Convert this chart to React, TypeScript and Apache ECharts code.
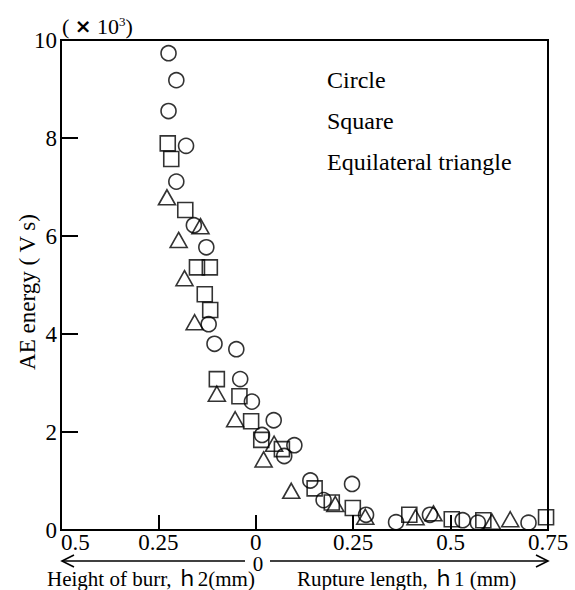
import React, { useEffect, useRef } from "react";
import * as echarts from "echarts";

// x: negative = height of burr h2, positive = rupture length h1 (mm); y: AE energy (x10^3 V s)
const circleData: number[][] = [
  [-0.224, 9.73], [-0.204, 9.18], [-0.224, 8.55], [-0.179, 7.84], [-0.204, 7.11],
  [-0.159, 6.22], [-0.127, 5.77], [-0.121, 4.2], [-0.106, 3.8], [-0.05, 3.69],
  [-0.04, 3.08], [-0.01, 2.62], [0.046, 2.24], [0.016, 1.94], [0.099, 1.73],
  [0.073, 1.51], [0.14, 1.01], [0.174, 0.61], [0.247, 0.94], [0.283, 0.31],
  [0.36, 0.16], [0.447, 0.31], [0.531, 0.2], [0.57, 0.15], [0.7, 0.15],
];
const squareData: number[][] = [
  [-0.226, 7.89], [-0.217, 7.57], [-0.181, 6.53], [-0.151, 5.36], [-0.118, 5.36],
  [-0.131, 4.81], [-0.117, 4.49], [-0.1, 3.08], [-0.042, 2.73], [-0.012, 2.22],
  [0.014, 1.84], [0.067, 1.65], [0.151, 0.85], [0.195, 0.56], [0.249, 0.45],
  [0.394, 0.31], [0.503, 0.22], [0.584, 0.2], [0.745, 0.26],
];
const triangleData: number[][] = [
  [-0.228, 6.79], [-0.142, 6.2], [-0.198, 5.92], [-0.183, 5.14], [-0.157, 4.24],
  [-0.1, 2.78], [-0.053, 2.26], [0.047, 1.76], [0.02, 1.44], [0.091, 0.8],
  [0.204, 0.53], [0.281, 0.27], [0.41, 0.26], [0.456, 0.34], [0.606, 0.17],
  [0.653, 0.22],
];
const legendNames = ["Circle", "Square", "Equilateral triangle"];
const xTickMin = -0.5;
const xTickMax = 0.75;
const xTickStep = 0.25;
const yTickMin = 0;
const yTickMax = 10;
const yTickStep = 2;

const FONT = '"Liberation Serif", "Times New Roman", "Noto Sans CJK JP", serif';

export default function App() {
  const ref = useRef<HTMLDivElement>(null);
  useEffect(() => {
    if (!ref.current) return;
    const chart = echarts.init(ref.current, undefined, { renderer: "svg" });
    const markerStyle = {
      color: "rgba(0,0,0,0)",
      borderColor: "#000",
      borderWidth: 1.6,
    };
    chart.setOption({
      animation: false,
      backgroundColor: "#fff",
      grid: {
        left: 61,
        right: 27,
        top: 40,
        bottom: 60,
        show: true,
        borderColor: "#000",
        borderWidth: 2,
        backgroundColor: "transparent",
      },
      xAxis: {
        type: "value",
        min: xTickMin,
        max: xTickMax,
        interval: xTickStep,
        axisLine: { onZero: false, lineStyle: { color: "#000", width: 2 } },
        axisTick: { inside: true, length: 15, lineStyle: { color: "#000", width: 2 } },
        splitLine: { show: false },
        axisLabel: {
          color: "#000",
          fontFamily: FONT,
          fontSize: 23,
          lineHeight: 20,
          margin: 2,
          alignMinLabel: "left",
          formatter: (v: number) => {
            const a = Math.abs(Math.round(v * 100) / 100);
            return a === 0 ? "0" : String(a);
          },
        },
      },
      yAxis: {
        type: "value",
        min: yTickMin,
        max: yTickMax,
        interval: yTickStep,
        axisLine: { onZero: false, lineStyle: { color: "#000", width: 2 } },
        axisTick: { inside: true, length: 17, lineStyle: { color: "#000", width: 2 } },
        splitLine: { show: false },
        axisLabel: {
          color: "#000",
          fontFamily: FONT,
          fontSize: 23,
          margin: 4,
        },
      },
      series: [
        {
          name: legendNames[0],
          type: "scatter",
          symbol: "circle",
          symbolSize: 15,
          itemStyle: markerStyle,
          data: circleData,
        },
        {
          name: legendNames[1],
          type: "scatter",
          symbol: "rect",
          symbolSize: 15,
          itemStyle: markerStyle,
          data: squareData,
        },
        {
          name: legendNames[2],
          type: "scatter",
          symbol: "triangle",
          symbolSize: [17, 15],
          itemStyle: markerStyle,
          data: triangleData,
        },
      ],
      graphic: [
        {
          type: "text",
          left: 62,
          top: 15,
          style: {
            text: "( {x|×} 10{s|3})",
            fill: "#000",
            font: `22px ${FONT}`,
            rich: {
              x: { fontSize: 20, fontWeight: "bold", fontFamily: "DejaVu Sans", fill: "#000" },
              s: { fontSize: 13, fontFamily: FONT, verticalAlign: "top", fill: "#000" },
            },
          },
        },
        ...legendNames.map((n, i) => ({
          type: "text",
          x: 327,
          y: 80 + i * 41,
          style: {
            text: n,
            fill: "#000",
            font: `24px ${FONT}`,
            verticalAlign: "middle",
            align: "left",
          },
        })),
        {
          type: "text",
          x: 27,
          y: 292,
          rotation: Math.PI / 2,
          style: {
            text: "AE energy ( V s)",
            fill: "#000",
            font: `23px ${FONT}`,
            align: "center",
            verticalAlign: "middle",
          },
        },
        {
          type: "polyline",
          shape: { points: [[245, 561], [62, 561]] },
          style: { stroke: "#000", lineWidth: 1.6, fill: "none" },
        },
        {
          type: "polyline",
          shape: { points: [[74, 555], [62, 561], [74, 567]] },
          style: { stroke: "#000", lineWidth: 1.6, fill: "none" },
        },
        {
          type: "polyline",
          shape: { points: [[270, 561], [548, 561]] },
          style: { stroke: "#000", lineWidth: 1.6, fill: "none" },
        },
        {
          type: "polyline",
          shape: { points: [[536, 555], [548, 561], [536, 567]] },
          style: { stroke: "#000", lineWidth: 1.6, fill: "none" },
        },
        {
          type: "text",
          x: 258,
          y: 564,
          style: {
            text: "0",
            fill: "#000",
            font: `21px ${FONT}`,
            lineHeight: 18,
            align: "center",
            verticalAlign: "middle",
          },
        },
        {
          type: "text",
          x: 47,
          y: 579,
          style: {
            text: "Height of burr, ｈ2(mm)",
            fill: "#000",
            font: `21px ${FONT}`,
            lineHeight: 20,
            align: "left",
            verticalAlign: "middle",
          },
        },
        {
          type: "text",
          x: 297,
          y: 579,
          style: {
            text: "Rupture length, ｈ1 (mm)",
            fill: "#000",
            font: `21px ${FONT}`,
            lineHeight: 20,
            align: "left",
            verticalAlign: "middle",
          },
        },
      ],
    });
    return () => chart.dispose();
  }, []);
  return <div ref={ref} style={{ width: 575, height: 590, position: "absolute", left: 0, top: 0 }} />;
}
